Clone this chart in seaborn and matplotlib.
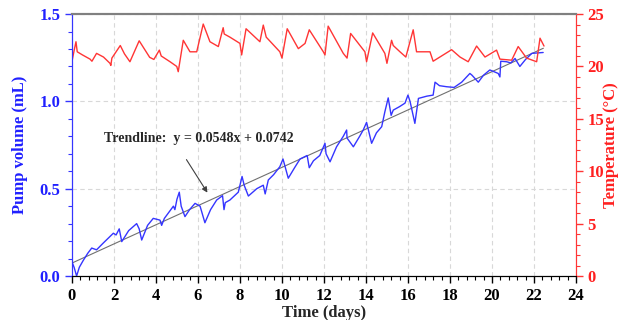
import numpy as np
import pandas as pd
import seaborn as sns
import matplotlib.pyplot as plt
from matplotlib.ticker import MultipleLocator

# pump volume (mL) vs time (days)
pump_t = [0.0, 0.1, 0.22, 0.35, 0.54, 0.75, 0.94, 1.17, 1.5, 1.97, 2.1, 2.25, 2.37, 2.7, 3.08, 3.2,
          3.32, 3.6, 3.87, 4.19, 4.27, 4.4, 4.83, 4.9, 5.0, 5.11, 5.2, 5.38, 5.6, 5.86, 6.1, 6.33,
          6.6, 6.89, 7.17, 7.24, 7.3, 7.52, 7.92, 8.1, 8.2, 8.4, 8.8, 9.11, 9.2, 9.35, 9.6, 9.9,
          10.05, 10.3, 10.6, 10.86, 11.2, 11.3, 11.5, 11.8, 12.05, 12.1, 12.29, 12.6, 12.92, 13.08,
          13.1, 13.4, 13.7, 13.87, 14.03, 14.27, 14.5, 14.75, 14.9, 15.06, 15.2, 15.3, 15.6, 15.86,
          16.0, 16.1, 16.33, 16.5, 16.9, 17.2, 17.29, 17.5, 17.84, 18.2, 18.56, 18.95, 19.05, 19.35,
          19.6, 19.9, 20.3, 20.38, 20.42, 20.7, 20.9, 21.1, 21.33, 21.6, 21.9, 22.44]
pump_v = [0.08, 0.05, 0.0, 0.05, 0.09, 0.13, 0.16, 0.15, 0.19, 0.245, 0.235, 0.27, 0.197, 0.26, 0.30, 0.27,
          0.206, 0.29, 0.33, 0.32, 0.29, 0.33, 0.40, 0.38, 0.44, 0.48, 0.40, 0.34, 0.38, 0.416, 0.40, 0.305,
          0.38, 0.435, 0.46, 0.38, 0.42, 0.435, 0.48, 0.57, 0.52, 0.458, 0.50, 0.52, 0.47, 0.55, 0.58, 0.626,
          0.67, 0.56, 0.62, 0.67, 0.69, 0.62, 0.66, 0.69, 0.76, 0.70, 0.654, 0.74, 0.80, 0.836,
          0.79, 0.74, 0.80, 0.836, 0.88, 0.76, 0.82, 0.855, 0.94, 1.02, 0.92, 0.95, 0.97, 0.99,
          1.036, 1.0, 0.874, 1.017, 1.03, 1.036, 1.11, 1.09, 1.084, 1.08, 1.11, 1.16, 1.15, 1.11,
          1.15, 1.18, 1.16, 1.14, 1.23, 1.227, 1.22, 1.246, 1.2, 1.24, 1.275, 1.28]

# temperature (°C) vs time (days)
temp_t = [0.0, 0.1, 0.19, 0.25, 0.5, 0.86, 0.95, 1.17, 1.5, 1.81, 1.85, 1.9, 2.3, 2.5, 2.76, 3.2,
          3.7, 3.9, 4.16, 4.25, 4.67, 4.99, 5.06, 5.3, 5.62, 5.94, 6.25, 6.57, 6.97, 7.2, 7.25, 7.52,
          8.0, 8.08, 8.29, 8.95, 9.11, 9.25, 9.9, 10.0, 10.25, 10.78, 11.1, 11.3, 11.97, 12.05, 12.2,
          12.92, 13.1, 13.27, 13.95, 14.03, 14.32, 14.9, 15.0, 15.22, 15.3, 15.62, 15.9, 16.25, 16.41,
          17.05, 17.2, 18.08, 18.48, 18.87, 19.27, 19.67, 20.22, 20.38, 20.94, 21.25, 21.65, 22.13,
          22.29, 22.48]
temp_c = [20.5, 21.5, 22.36, 21.4, 21.1, 20.7, 20.5, 21.25, 20.9, 20.3, 20.1, 20.8, 22.0, 21.2, 20.45, 22.45,
          20.87, 20.67, 21.56, 21.0, 20.45, 20.0, 19.5, 22.5, 21.4, 21.4, 24.05, 22.36, 21.9, 23.7, 23.1, 22.8,
          22.2, 21.1, 23.6, 22.36, 23.95, 22.8, 21.4, 20.8, 23.6, 21.7, 22.2, 23.5, 21.4, 21.1, 23.85,
          21.25, 20.8, 23.15, 21.4, 20.45, 23.2, 21.25, 20.3, 22.5, 22.0, 21.4, 20.9, 23.5, 21.4,
          21.4, 20.5, 21.6, 20.9, 20.45, 21.95, 20.9, 21.56, 20.7, 20.6, 21.9, 20.8, 20.45,
          22.7, 21.95]

slope, intercept = 0.0548, 0.0742
trend_t = [0.0, 22.45]

blue = '#3535ff'
red = '#ff3535'

sns.set_style("ticks")
plt.rcParams['font.family'] = ['Liberation Serif', 'DejaVu Serif']
plt.rcParams['font.weight'] = 'bold'

fig, ax = plt.subplots(figsize=(6.26, 3.2), dpi=100)
fig.subplots_adjust(left=0.115, right=0.920, top=0.956, bottom=0.1375)
ax2 = ax.twinx()

pump = pd.DataFrame({'t': pump_t, 'v': pump_v})
temp = pd.DataFrame({'t': temp_t, 'T': temp_c})
trend = pd.DataFrame({'t': trend_t, 'v': [slope * x + intercept for x in trend_t]})

sns.lineplot(data=trend, x='t', y='v', ax=ax, color='#707070', lw=0.8)
sns.lineplot(data=pump, x='t', y='v', ax=ax, color=blue, lw=1.0, sort=False)
sns.lineplot(data=temp, x='t', y='T', ax=ax2, color=red, lw=1.0, sort=False)

ax.set_xlim(0, 24)
ax.set_ylim(0, 1.5)
ax2.set_ylim(0, 25)
ax.xaxis.set_major_locator(MultipleLocator(2))
ax.xaxis.set_minor_locator(MultipleLocator(0.4))
ax.yaxis.set_major_locator(MultipleLocator(0.5))
ax.yaxis.set_minor_locator(MultipleLocator(0.1))
ax2.yaxis.set_major_locator(MultipleLocator(5))
ax2.yaxis.set_minor_locator(MultipleLocator(1))
ax.yaxis.set_major_formatter(plt.FormatStrFormatter('%.1f'))

ax.grid(which='major', linestyle=(0, (4, 3)), color='#d8d8d8', lw=0.8)
ax.set_axisbelow(True)

fs = 12
ax.tick_params(axis='x', which='major', direction='out', length=5, width=1, labelsize=fs, colors='black')
ax.tick_params(axis='x', which='minor', direction='out', length=3, width=0.8, colors='black')
ax.tick_params(axis='y', which='major', direction='out', length=5, width=1, labelsize=fs, colors=blue,
               labelcolor='#2020ff')
ax.tick_params(axis='y', which='minor', direction='out', length=3, width=0.8, colors=blue)
ax2.tick_params(axis='y', which='major', direction='out', length=5, width=1, labelsize=fs, colors=red,
                labelcolor='#ff2020')
ax2.tick_params(axis='y', which='minor', direction='out', length=3, width=0.8, colors=red)

for a in (ax, ax2):
    a.spines['top'].set_color('#808080')
    a.spines['top'].set_linewidth(1.5)
    a.spines['left'].set_color(blue)
    a.spines['right'].set_color(red)
    a.spines['bottom'].set_color('black')

ax.set_xlabel('Time (days)', fontsize=fs, fontweight='bold')
ax.set_ylabel('Pump volume (mL)', fontsize=fs, fontweight='bold', color='#2020ff')
ax2.set_ylabel('Temperature (\u00b0C)', fontsize=fs, fontweight='bold', color='#ff2020')
ax.xaxis.set_label_coords(0.5, -0.11)
ax.yaxis.set_label_coords(-0.088, 0.5)
ax2.yaxis.set_label_coords(1.054, 0.5)

ax.annotate('', xy=(6.52, 0.464), xytext=(5.38, 0.68),
            arrowprops=dict(arrowstyle='-|>', color='#404040', lw=0.8, mutation_scale=8))
ax.text(6.05, 0.785, 'Trendline:  y = 0.0548x + 0.0742', ha='center', va='center',
        fontsize=10, fontweight='bold')

fig.savefig('out.png', dpi=100)
